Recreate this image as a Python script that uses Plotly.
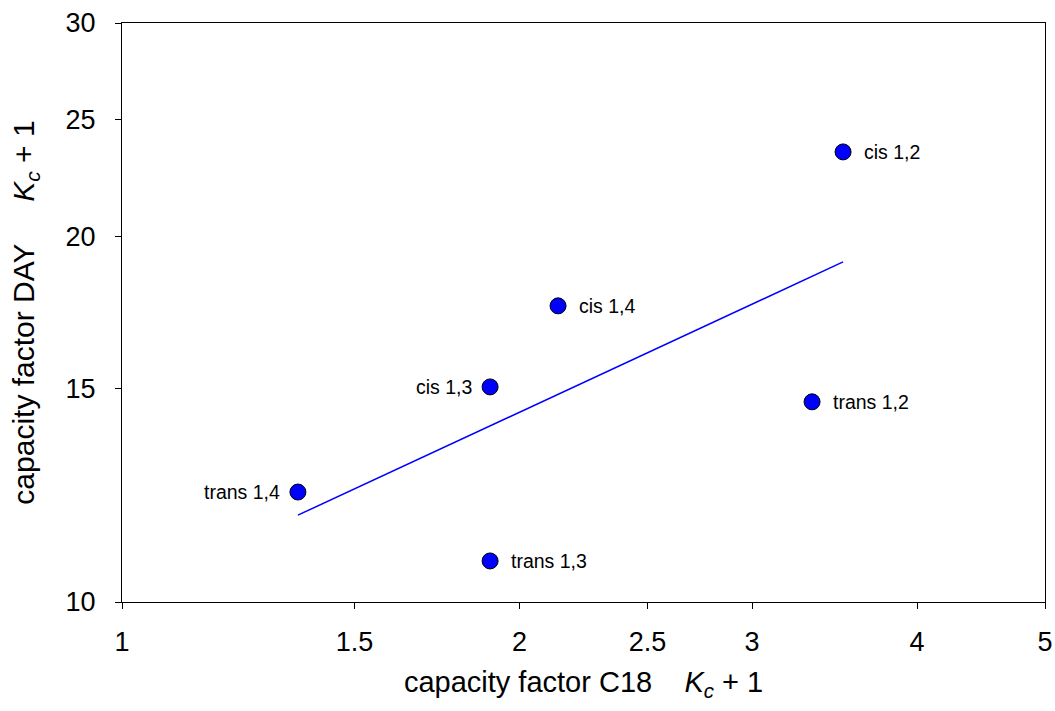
import numpy as np
import plotly.graph_objects as go

names = ["trans 1,4", "trans 1,3", "cis 1,3", "cis 1,4", "trans 1,2", "cis 1,2"]
c18 = [1.359, 1.900, 1.900, 2.139, 3.331, 3.516]
day = [12.32, 10.81, 15.04, 17.54, 14.62, 23.49]
label_side = ["left", "right", "left", "right", "right", "right"]

x_ticks = [1, 1.5, 2, 2.5, 3, 4, 5]
y_ticks = [10, 15, 20, 25, 30]

# log-log least squares fit
lx = np.log10(c18)
ly = np.log10(day)
slope, intercept = np.polyfit(lx, ly, 1)
fit_x = [min(c18), max(c18)]
fit_y = [10 ** (intercept + slope * np.log10(v)) for v in fit_x]

font = "Liberation Sans, Arial, sans-serif"
fig = go.Figure()
fig.add_trace(go.Scatter(x=fit_x, y=fit_y, mode="lines",
                         line=dict(color="#0000ff", width=1.5), showlegend=False))
fig.add_trace(go.Scatter(x=c18, y=day, mode="markers",
                         marker=dict(size=16, color="#0000ff", line=dict(color="black", width=1)),
                         showlegend=False))

for n, xv, yv, side in zip(names, c18, day, label_side):
    fig.add_annotation(x=np.log10(xv), y=np.log10(yv), text=n, showarrow=False,
                       xanchor="left" if side == "right" else "right",
                       xshift=19 if side == "right" else -16,
                       font=dict(family=font, size=19.5, color="black"))

fig.update_layout(
    width=1055, height=711,
    margin=dict(l=122, r=10, t=23, b=109),
    plot_bgcolor="white", paper_bgcolor="white",
    font=dict(family=font, color="black"),
    xaxis=dict(type="log", range=[0, np.log10(5)], tickvals=x_ticks,
               ticktext=[str(v) for v in x_ticks], automargin=False,
               ticks="outside", ticklen=6, tickcolor="black", showgrid=False, zeroline=False,
               showline=True, linecolor="black", linewidth=1, mirror=True,
               tickfont=dict(size=27), ticklabelstandoff=10,
               title=dict(text="capacity factor C18" + "\u00a0" * 4 + "<i>K</i><sub><i>c</i></sub> + 1",
                          font=dict(size=29), standoff=15)),
    yaxis=dict(type="log", range=[1, np.log10(30)], tickvals=y_ticks,
               ticktext=[str(v) for v in y_ticks], automargin=False,
               ticks="outside", ticklen=6, tickcolor="black", showgrid=False, zeroline=False,
               showline=True, linecolor="black", linewidth=1, mirror=True,
               tickfont=dict(size=27), ticklabelstandoff=14,
               title=dict(text="capacity factor DAY" + "\u00a0" * 5 + "<i>K</i><sub><i>c</i></sub> + 1",
                          font=dict(size=30), standoff=22)),
)
fig.write_html("out.html")
